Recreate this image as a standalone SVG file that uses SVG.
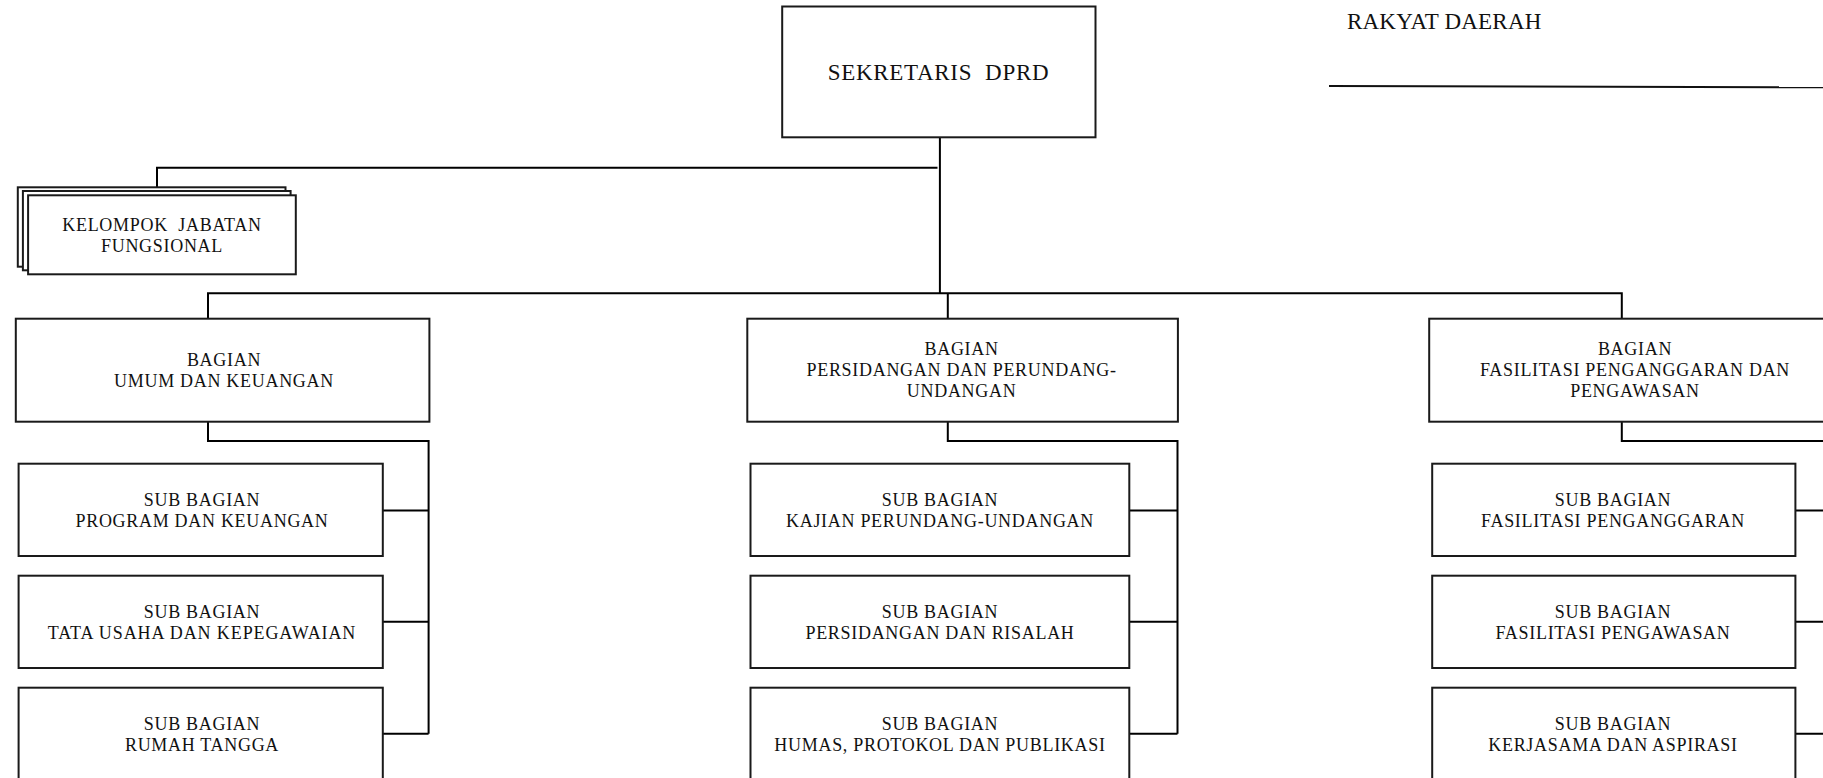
<svg xmlns="http://www.w3.org/2000/svg" width="1823" height="778" viewBox="0 0 1823 778">
<style>
.box{fill:#fff;stroke:#1a1a1a;stroke-width:2}
.ln{fill:none;stroke:#000;stroke-width:2}
text{font-family:"Liberation Serif","Times New Roman",serif;fill:#111;font-size:18px;text-anchor:middle;letter-spacing:0.7px}
.big{font-size:23px;letter-spacing:0.7px}
</style>
<rect width="1823" height="778" fill="#fff"/>
<g id="connectors">
<polyline class="ln" points="157,187.3 157,167.7 937.5,167.7"/>
<line class="ln" x1="939.9" y1="137.3" x2="939.9" y2="293.3"/>
<polyline class="ln" points="208,318.7 208,293.3 1621.8,293.3 1621.8,318.7"/>
<line class="ln" x1="947.8" y1="293.3" x2="947.8" y2="318.7"/>
<polyline class="ln" points="208,421.7 208,441 428.6,441 428.6,733.7"/>
<line class="ln" x1="382.8" y1="510.4" x2="428.6" y2="510.4"/>
<line class="ln" x1="382.8" y1="621.7" x2="428.6" y2="621.7"/>
<line class="ln" x1="382.8" y1="733.7" x2="428.6" y2="733.7"/>
<polyline class="ln" points="947.8,421.7 947.8,441 1177.5,441 1177.5,733.7"/>
<line class="ln" x1="1129.3" y1="510.4" x2="1177.5" y2="510.4"/>
<line class="ln" x1="1129.3" y1="621.7" x2="1177.5" y2="621.7"/>
<line class="ln" x1="1129.3" y1="733.7" x2="1177.5" y2="733.7"/>
<polyline class="ln" points="1621.8,421.7 1621.8,441 1845,441 1845,733.7"/>
<line class="ln" x1="1795.4" y1="510.4" x2="1845" y2="510.4"/>
<line class="ln" x1="1795.4" y1="621.7" x2="1845" y2="621.7"/>
<line class="ln" x1="1795.4" y1="733.7" x2="1845" y2="733.7"/>
</g>
<g id="header">
<text x="1347" y="29.3" class="big" style="text-anchor:start;letter-spacing:0.2px">RAKYAT DAERAH</text>
<line x1="1329" y1="86" x2="1823" y2="87.3" stroke="#111" stroke-width="2"/>
</g>
<g id="sekretaris">
<rect class="box" x="782.2" y="6.5" width="313.3" height="130.8"/>
<text x="938.5" y="80" class="big" xml:space="preserve">SEKRETARIS  DPRD</text>
</g>
<g id="kelompok">
<rect class="box" x="17.8" y="187.3" width="267.7" height="79.4"/>
<rect class="box" x="22.9" y="191" width="267.7" height="79.3"/>
<rect class="box" x="28.1" y="195.3" width="267.7" height="79"/>
<text x="162" y="230.7" xml:space="preserve">KELOMPOK  JABATAN</text>
<text x="162" y="251.7">FUNGSIONAL</text>
</g>
<g id="bagian-umum">
<rect class="box" x="15.8" y="318.7" width="413.6" height="103"/>
<text x="224" y="365.7">BAGIAN</text>
<text x="224" y="387">UMUM DAN KEUANGAN</text>
</g>
<g id="bagian-persidangan">
<rect class="box" x="747.3" y="318.7" width="430.6" height="103"/>
<text x="961.6" y="355">BAGIAN</text>
<text x="961.6" y="376.3">PERSIDANGAN DAN PERUNDANG-</text>
<text x="961.6" y="397.3">UNDANGAN</text>
</g>
<g id="bagian-fasilitasi">
<rect class="box" x="1429.2" y="318.7" width="412" height="103"/>
<text x="1635" y="355">BAGIAN</text>
<text x="1635" y="376.3">FASILITASI PENGANGGARAN DAN</text>
<text x="1635" y="397.3">PENGAWASAN</text>
</g>
<g id="sub-program">
<rect class="box" x="18.6" y="463.7" width="364.2" height="92.3"/>
<text x="202" y="505.7">SUB BAGIAN</text>
<text x="202" y="526.7">PROGRAM DAN KEUANGAN</text>
</g>
<g id="sub-tatausaha">
<rect class="box" x="18.6" y="575.7" width="364.2" height="92.3"/>
<text x="202" y="617.7">SUB BAGIAN</text>
<text x="202" y="638.7" style="letter-spacing:0.9px">TATA USAHA DAN KEPEGAWAIAN</text>
</g>
<g id="sub-rumahtangga">
<rect class="box" x="18.6" y="687.7" width="364.2" height="92.3"/>
<text x="202" y="729.7">SUB BAGIAN</text>
<text x="202" y="750.7">RUMAH TANGGA</text>
</g>
<g id="sub-kajian">
<rect class="box" x="750.5" y="463.7" width="378.8" height="92.3"/>
<text x="940" y="505.7">SUB BAGIAN</text>
<text x="940" y="526.7">KAJIAN PERUNDANG-UNDANGAN</text>
</g>
<g id="sub-persidangan">
<rect class="box" x="750.5" y="575.7" width="378.8" height="92.3"/>
<text x="940" y="617.7">SUB BAGIAN</text>
<text x="940" y="638.7">PERSIDANGAN DAN RISALAH</text>
</g>
<g id="sub-humas">
<rect class="box" x="750.5" y="687.7" width="378.8" height="92.3"/>
<text x="940" y="729.7">SUB BAGIAN</text>
<text x="940" y="750.7">HUMAS, PROTOKOL DAN PUBLIKASI</text>
</g>
<g id="sub-penganggaran">
<rect class="box" x="1432.2" y="463.7" width="363.2" height="92.3"/>
<text x="1613" y="505.7">SUB BAGIAN</text>
<text x="1613" y="526.7">FASILITASI PENGANGGARAN</text>
</g>
<g id="sub-pengawasan">
<rect class="box" x="1432.2" y="575.7" width="363.2" height="92.3"/>
<text x="1613" y="617.7">SUB BAGIAN</text>
<text x="1613" y="638.7">FASILITASI PENGAWASAN</text>
</g>
<g id="sub-kerjasama">
<rect class="box" x="1432.2" y="687.7" width="363.2" height="92.3"/>
<text x="1613" y="729.7">SUB BAGIAN</text>
<text x="1613" y="750.7">KERJASAMA DAN ASPIRASI</text>
</g>
</svg>
